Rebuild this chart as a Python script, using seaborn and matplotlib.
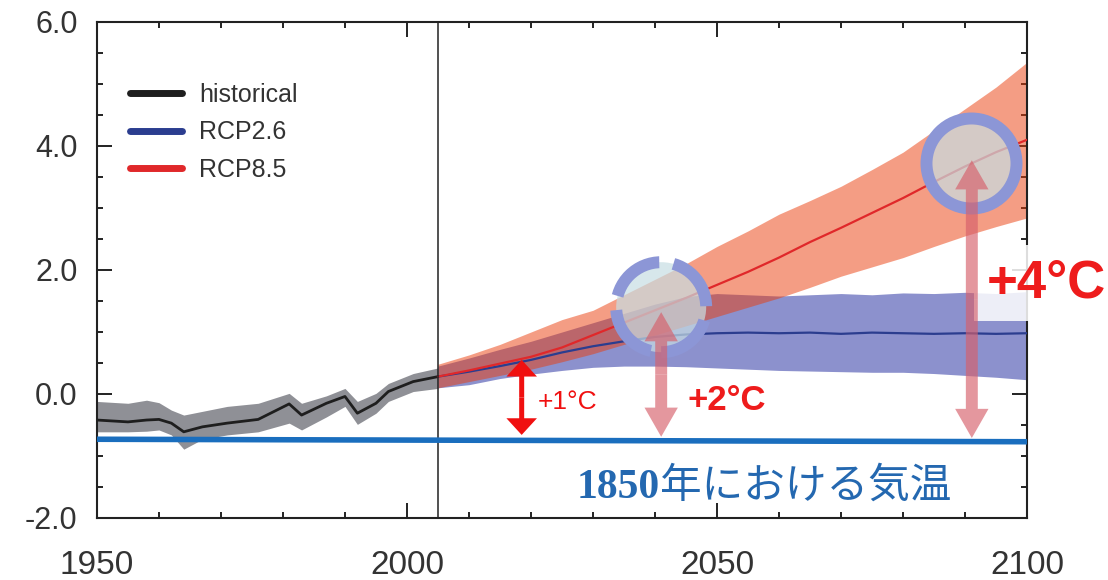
import matplotlib
matplotlib.use("Agg")
import matplotlib.pyplot as plt
from matplotlib.patches import FancyArrowPatch
from matplotlib.lines import Line2D
from matplotlib.ticker import MultipleLocator
import seaborn as sns
import pandas as pd

sns.set_theme(style="ticks")
plt.rcParams["font.family"] = ["Liberation Sans", "Noto Sans CJK JP", "DejaVu Sans"]

# --- data (deg C) ---
hist_years = [1950, 1955, 1958, 1960, 1962, 1964, 1967, 1971, 1976, 1981,
              1983, 1987, 1990, 1992, 1995, 1997, 2001, 2005]
hist_mean = [-0.42, -0.45, -0.42, -0.41, -0.47, -0.61, -0.53, -0.47, -0.41, -0.16,
             -0.34, -0.15, -0.04, -0.31, -0.15, 0.04, 0.20, 0.28]
hist_hi = [-0.12, -0.15, -0.10, -0.14, -0.26, -0.34, -0.28, -0.20, -0.15, 0.01,
           -0.15, -0.03, 0.09, -0.12, 0.01, 0.17, 0.33, 0.42]
hist_lo = [-0.61, -0.61, -0.60, -0.58, -0.66, -0.89, -0.73, -0.66, -0.61, -0.47,
           -0.58, -0.37, -0.20, -0.49, -0.31, -0.12, 0.04, 0.09]

rcp_years = [2005, 2010, 2015, 2020, 2025, 2030, 2035, 2040, 2045, 2050,
             2055, 2060, 2065, 2070, 2075, 2080, 2085, 2090, 2095, 2100]
rcp26_mean = [0.28, 0.36, 0.45, 0.55, 0.67, 0.77, 0.85, 0.92, 0.96, 0.98,
              0.99, 0.98, 0.99, 0.97, 0.99, 0.98, 0.97, 0.98, 0.97, 0.98]
rcp26_hi = [0.45, 0.58, 0.72, 0.85, 1.00, 1.15, 1.30, 1.45, 1.57, 1.62,
            1.60, 1.58, 1.60, 1.62, 1.60, 1.63, 1.62, 1.64, 1.62, 1.65]
rcp26_lo = [0.10, 0.15, 0.25, 0.32, 0.38, 0.43, 0.45, 0.45, 0.44, 0.42,
            0.40, 0.38, 0.37, 0.36, 0.35, 0.35, 0.33, 0.30, 0.27, 0.23]
rcp85_mean = [0.28, 0.38, 0.49, 0.60, 0.75, 0.95, 1.15, 1.35, 1.55, 1.76,
              1.97, 2.20, 2.45, 2.68, 2.92, 3.16, 3.42, 3.67, 3.90, 4.10]
rcp85_hi = [0.48, 0.63, 0.80, 1.00, 1.20, 1.35, 1.60, 1.85, 2.10, 2.38,
            2.63, 2.90, 3.12, 3.35, 3.62, 3.90, 4.25, 4.60, 4.95, 5.35]
rcp85_lo = [0.10, 0.20, 0.30, 0.40, 0.52, 0.65, 0.80, 0.95, 1.10, 1.25,
            1.40, 1.55, 1.72, 1.90, 2.05, 2.20, 2.38, 2.55, 2.70, 2.84]

# 1850 baseline level
base_years = [1950, 2100]
base_temp = [-0.73, -0.77]

series_labels = ["historical", "RCP2.6", "RCP8.5"]
series_colors = ["#1e1e1e", "#2b3d8f", "#e0282a"]

y_ticks = [-2, 0, 2, 4, 6]
y_ticklabels = ["-2.0", "0.0", "2.0", "4.0", "6.0"]
x_ticks = [1950, 2000, 2050, 2100]

# annotation anchors
split_year = 2005
circle_years = [2041.0, 2091.0]
circle_temps = [1.40, 3.73]
arrow_1 = (2018.5, -0.66, 0.55)
arrow_2 = (2041.0, -0.69, 1.32)
arrow_4 = (2091.1, -0.71, 3.77)

hist = pd.DataFrame({"year": hist_years, "temp": hist_mean})
rcp26 = pd.DataFrame({"year": rcp_years, "temp": rcp26_mean})
rcp85 = pd.DataFrame({"year": rcp_years, "temp": rcp85_mean})

fig = plt.figure(figsize=(11.08, 5.8), dpi=100)
ax = fig.add_axes([0.0875, 0.1069, 0.8394, 0.8552])

# uncertainty bands
ax.fill_between(hist_years, hist_lo, hist_hi, color="#8f9096", lw=0, zorder=1)
ax.fill_between(rcp_years, rcp26_lo, rcp26_hi, color="#8c91cd", lw=0, zorder=1)
ax.fill_between(rcp_years, rcp85_lo, rcp85_hi, color="#eb3c0a", alpha=0.5, lw=0, zorder=1.2)

sns.lineplot(data=hist, x="year", y="temp", ax=ax, color=series_colors[0], lw=2, zorder=3)
sns.lineplot(data=rcp26, x="year", y="temp", ax=ax, color=series_colors[1], lw=1.6, zorder=3)
sns.lineplot(data=rcp85, x="year", y="temp", ax=ax, color=series_colors[2], lw=1.6, zorder=3)

ax.axvline(split_year, color="#222222", lw=1.1, zorder=3)
ax.plot(base_years, base_temp, color="#1a6ebe", lw=4, solid_capstyle="butt", zorder=3)

# highlight circles
ring_face = [(0.78, 0.87, 0.89, 0.7)]
ring_edge = [(0.55, 0.59, 0.84, 1.0)]
ax.scatter(circle_years[:1], circle_temps[:1], s=4200, marker="o",
           facecolors=ring_face, edgecolors=ring_edge,
           linewidths=8.6, linestyles=[(0, (4.8, 1.2))], zorder=4)
ax.scatter(circle_years[1:], circle_temps[1:], s=4200, marker="o",
           facecolors=ring_face, edgecolors=ring_edge, linewidths=8.6, zorder=4)


def double_arrow(spec, color, alpha, tail, head_w, head_l):
    x, y0, y1 = spec
    mid = (y0 + y1) / 2
    style = f"simple,head_length={head_l},head_width={head_w},tail_width={tail}"
    for end in (y0, y1):
        ax.add_patch(FancyArrowPatch((x, mid), (x, end), arrowstyle=style,
                                     mutation_scale=1, color=color, alpha=alpha,
                                     lw=0, shrinkA=0, shrinkB=0, zorder=5))


double_arrow(arrow_1, "#f01010", 1.0, 3.6, 22, 12)
double_arrow(arrow_2, "#d65f6a", 0.65, 8.6, 24, 21)
double_arrow(arrow_4, "#d65f6a", 0.65, 8.6, 24, 21)

ax.text(2021.1, -0.13, "+1°C", color="#f01010", fontsize=19, va="center", zorder=6)
ax.text(2045.3, -0.10, "+2°C", color="#ee1c1c", fontsize=25, fontweight="bold",
        va="center", zorder=6)
ax.text(2093.5, 1.79, "+4°C", color="#ee1c1c", fontsize=38, fontweight="bold",
        va="center", zorder=4.5,
        bbox=dict(boxstyle="square,pad=0.25", fc="white", ec="none", alpha=0.85))

ax.text(2040.8, -1.68, "1850", color="#2468b0", fontsize=30, fontweight="bold",
        family="Liberation Serif", ha="right", va="baseline", zorder=6)
ax.text(2040.8, -1.68, "年における気温", color="#2468b0", fontsize=30,
        family="Noto Sans CJK JP", ha="left", va="baseline", zorder=6)

# axes styling
ax.set_xlim(1950, 2100)
ax.set_ylim(-2, 6)
ax.set_xticks(x_ticks)
ax.set_xticklabels([str(x) for x in x_ticks])
ax.set_yticks(y_ticks)
ax.set_yticklabels(y_ticklabels)
ax.xaxis.set_minor_locator(MultipleLocator(10))
ax.yaxis.set_minor_locator(MultipleLocator(0.5))
ax.tick_params(which="both", direction="in", top=True, right=True, color="#222222", width=1.4)
ax.tick_params(which="major", length=11)
ax.tick_params(which="minor", length=4)
ax.tick_params(axis="x", which="major", pad=23, labelsize=24, labelcolor="#333333")
ax.tick_params(axis="y", which="major", pad=14, labelsize=22, labelcolor="#333333")
for sp in ax.spines.values():
    sp.set_color("#222222")
    sp.set_linewidth(1.5)
ax.set_xlabel("")
ax.set_ylabel("")

handles = [Line2D([0], [0], color=c, lw=5, solid_capstyle="round") for c in series_colors]
leg = ax.legend(handles, series_labels, loc="upper left", bbox_to_anchor=(0.035, 0.877),
                frameon=False, fontsize=18, handlelength=2.1, handletextpad=0.67,
                labelspacing=0.54, borderpad=0, borderaxespad=0)
for t in leg.get_texts():
    t.set_color("#333333")

fig.savefig("out.png", dpi=100)
